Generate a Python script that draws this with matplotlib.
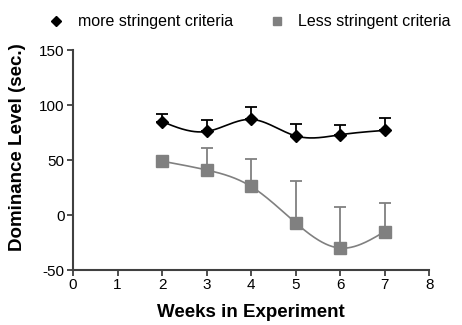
import matplotlib
matplotlib.use("Agg")
import matplotlib.pyplot as plt
import numpy as np

plt.rcParams['font.family'] = ['Liberation Sans', 'DejaVu Sans']
plt.rcParams['axes.unicode_minus'] = False

# dados
semanas = [2, 3, 4, 5, 6, 7]
mais_rigoroso = [85, 76, 87, 72, 73, 77]
mais_rigoroso_erro = [7, 10, 11, 11, 9, 11]
menos_rigoroso = [49, 41, 26, -7, -30, -15]
menos_rigoroso_erro = [4, 20, 25, 38, 37, 26]


# Spline cúbica natural só para desenhar a curva suave
def curva_suave(x, y, n=200):
    x = np.asarray(x, float)
    y = np.asarray(y, float)
    k = len(x)
    h = np.diff(x)
    A = np.zeros((k, k))
    b = np.zeros(k)
    A[0, 0] = A[-1, -1] = 1
    for i in range(1, k - 1):
        A[i, i - 1] = h[i - 1]
        A[i, i] = 2 * (h[i - 1] + h[i])
        A[i, i + 1] = h[i]
        b[i] = 6 * ((y[i + 1] - y[i]) / h[i] - (y[i] - y[i - 1]) / h[i - 1])
    M = np.linalg.solve(A, b)
    xs = np.linspace(x[0], x[-1], n)
    ys = np.empty_like(xs)
    for j, xv in enumerate(xs):
        i = min(np.searchsorted(x, xv) - 1, k - 2)
        i = max(i, 0)
        t1 = x[i + 1] - xv
        t0 = xv - x[i]
        ys[j] = (M[i] * t1**3 / (6 * h[i]) + M[i + 1] * t0**3 / (6 * h[i])
                 + (y[i] / h[i] - M[i] * h[i] / 6) * t1
                 + (y[i + 1] / h[i] - M[i + 1] * h[i] / 6) * t0)
    return xs, ys


fig = plt.figure(figsize=(4.62, 3.25), dpi=100)
ax = fig.add_axes([0.158, 0.169, 0.771, 0.677])

cinza = '#808080'

ax.errorbar(semanas, mais_rigoroso, yerr=[np.zeros(6), mais_rigoroso_erro], fmt='none',
            ecolor='black', elinewidth=1.3, capsize=4, capthick=1.3, zorder=2)
ax.errorbar(semanas, menos_rigoroso, yerr=[np.zeros(6), menos_rigoroso_erro], fmt='none',
            ecolor=cinza, elinewidth=1.3, capsize=4, capthick=1.3, zorder=2)

xs, ys = curva_suave(semanas, mais_rigoroso)
ax.plot(xs, ys, color='black', lw=1.2, zorder=3)
xs, ys = curva_suave(semanas, menos_rigoroso)
ax.plot(xs, ys, color=cinza, lw=1.2, zorder=3)

ax.plot(semanas, mais_rigoroso, 'D', color='black', ms=6.5, ls='none',
        label='more stringent criteria', zorder=4)
ax.plot(semanas, menos_rigoroso, 's', color=cinza, ms=8, ls='none',
        label='Less stringent criteria', zorder=4)

ax.set_xlim(0, 8)
ax.set_ylim(-50, 150)
ax.set_xticks(range(0, 9))
ax.set_yticks([-50, 0, 50, 100, 150])

for lado in ['top', 'right']:
    ax.spines[lado].set_visible(False)
for lado in ['left', 'bottom']:
    ax.spines[lado].set_color('#404040')
    ax.spines[lado].set_linewidth(1.5)
ax.tick_params(direction='out', length=4, width=1.3, color='#404040',
               labelsize=11, pad=2)

ax.set_xlabel('Weeks in Experiment', fontsize=13.5, fontweight='bold', labelpad=8)
ax.set_ylabel('Dominance Level (sec.)', fontsize=13.5, fontweight='bold')
ax.yaxis.set_label_coords(-0.132, 0.56)

fig.legend(loc='upper left', bbox_to_anchor=(0.073, 1.0), ncol=2, frameon=False,
           fontsize=11.5, handletextpad=0.85, columnspacing=2.25, handlelength=1.0,
           markerscale=0.75)

fig.savefig('out.png', dpi=100)
